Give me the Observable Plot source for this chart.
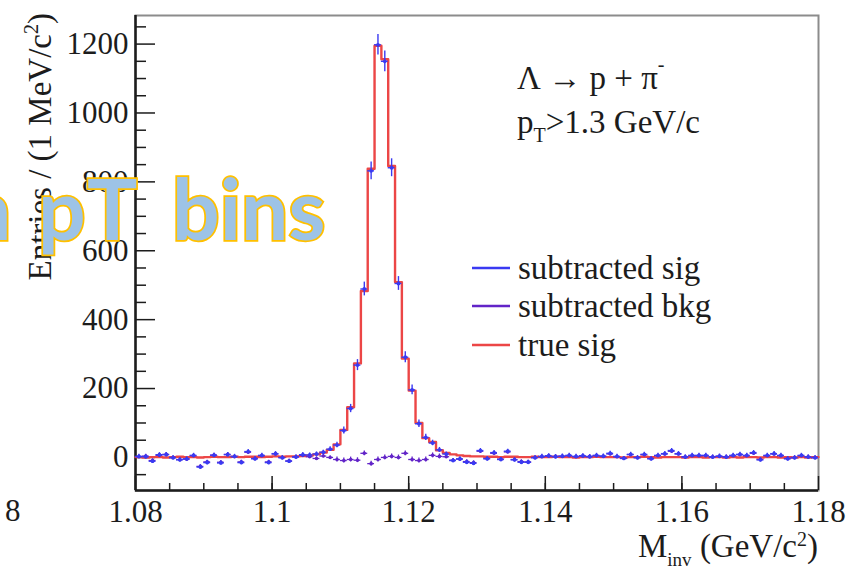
<!DOCTYPE html>
<html>
<head>
<meta charset="utf-8">
<script src="https://cdn.jsdelivr.net/npm/d3@7"></script>
<script src="https://cdn.jsdelivr.net/npm/@observablehq/plot@0.6"></script>
<style>
  html, body { margin: 0; padding: 0; background: #fff; }
  #wrap { position: relative; width: 849px; height: 572px; overflow: hidden; background: #fff; }
  #wrap > svg { position: absolute; left: 0; top: 0; }
</style>
</head>
<body>
<div id="wrap"></div>
<script>
// Invariant-mass histogram: 100 bins of 1 MeV/c^2 between 1.08 and 1.18 GeV/c^2
const massRange = [1.08, 1.18];
const nBins = 100;
const binWidth = (massRange[1] - massRange[0]) / nBins;
const binCenters = d3.range(nBins).map(i => +(massRange[0] + (i + 0.5) * binWidth).toFixed(4));

// true signal (MC truth), counts per bin
const trueSig = [
  1, 0, 1, 1, 0, 1, 2, 1, 1, 0,
  1, 2, 1, 1, 2, 1, 2, 2, 1, 2,
  3, 2, 3, 3, 4, 6, 9, 14, 22, 38,
  80, 146, 273, 483, 838, 1195, 1156, 846, 509, 287,
  194, 100, 56, 45, 21, 13, 9, 6, 4, 3,
  3, 2, 2, 1, 2, 2, 1, 1, 2, 1,
  1, 2, 1, 1, 0, 1, 1, 2, 1, 1,
  1, 0, 1, 1, 2, 1, 0, 1, 1, 1,
  0, 1, 1, 0, 1, 1, 0, 1, 0, 1,
  1, 0, 1, 1, 0, 1, 0, 1, 0, 1
];

// background-subtracted signal
const sigSub = [
  3, 2, -11, 8, 8, -1, -7, -4, 6, -28,
  -15, 6, -16, 8, 3, -15, 17, -4, 6, -15,
  11, -1, -11, 1, 8, 7, 10, 15, 24, 36,
  78, 142, 268, 489, 832, 1198, 1150, 841, 505, 291,
  196, 98, 58, 42, 22, 10, -9, -4, -14, -17,
  20, -4, 14, -6, 18, -7, -14, -14, -1, 3,
  5, 2, 4, 6, 3, 5, 2, 6, 4, 12,
  3, -3, 9, -1, 9, -4, 6, 11, 20, 11,
  1, 6, 6, 6, 1, 4, 1, 6, 9, 6,
  14, -7, 6, 11, 6, -4, -1, 6, 1, -1
];
const sigErr = [
  6, 6, 6, 6, 6, 6, 6, 6, 6, 6,
  6, 6, 6, 6, 6, 6, 6, 6, 6, 6,
  6, 6, 6, 6, 6, 6, 6, 6, 7, 8,
  10, 12, 16, 20, 26, 30, 30, 26, 20, 16,
  14, 11, 9, 8, 7, 6, 6, 6, 6, 6,
  6, 6, 6, 6, 6, 6, 6, 6, 6, 6,
  6, 6, 6, 6, 6, 6, 6, 6, 6, 6,
  6, 6, 6, 6, 6, 6, 6, 6, 6, 6,
  6, 6, 6, 6, 6, 6, 6, 6, 6, 6,
  6, 6, 6, 6, 6, 6, 6, 6, 6, 6
];

// subtracted background (residual)
const bkgSub = [
  2, 4, -9, 6, 9, 0, -6, -5, 5, -26,
  -13, 7, -14, 9, 2, -13, 15, -3, 5, -13,
  10, 0, -10, 2, 6, 2, -3, 4, 0, -6,
  -9, -6, -8, 12, -18, -6, 0, 3, 0, 12,
  -6, -9, -6, 6, 3, 2, -8, -5, -12, -15,
  18, -3, 12, -5, 16, -6, -12, -13, 0, 2,
  4, 3, 3, 5, 2, 4, 3, 5, 3, 10,
  2, -2, 8, 0, 8, -3, 5, 10, 18, 10,
  2, 5, 5, 5, 2, 3, 2, 5, 8, 5,
  12, -6, 5, 10, 5, -3, 0, 5, 2, 0
];
const bkgErr = [
  5, 5, 5, 5, 5, 5, 5, 5, 5, 5,
  5, 5, 5, 5, 5, 5, 5, 5, 5, 5,
  5, 5, 5, 5, 5, 5, 5, 5, 5, 7,
  7, 7, 7, 7, 7, 7, 7, 7, 7, 7,
  7, 7, 7, 7, 7, 5, 5, 5, 5, 5,
  5, 5, 5, 5, 5, 5, 5, 5, 5, 5,
  5, 5, 5, 5, 5, 5, 5, 5, 5, 5,
  5, 5, 5, 5, 5, 5, 5, 5, 5, 5,
  5, 5, 5, 5, 5, 5, 5, 5, 5, 5,
  5, 5, 5, 5, 5, 5, 5, 5, 5, 5
];

// axis ticks
const xTicks = [1.08, 1.1, 1.12, 1.14, 1.16, 1.18];
const xMinorTicks = d3.range(1.085, 1.18, 0.005).map(v => +v.toFixed(3));
const yTicks = [0, 200, 400, 600, 800, 1000, 1200];
const yMinorTicks = [-50, 50, 100, 150, 250, 300, 350, 450, 500, 550, 650, 700, 750,
                     850, 900, 950, 1050, 1100, 1150, 1250];
const yRange = [-96, 1283];

const colors = { sig: "#3a3af2", bkg: "#6224c8", truth: "#ec4646" };
const legendLabels = ["subtracted sig", "subtracted bkg", "true sig"];

const rows = binCenters.map((c, i) => ({
  c, lo: c - binWidth / 2, hi: c + binWidth / 2,
  truth: trueSig[i], sig: sigSub[i], sigErr: sigErr[i], bkg: bkgSub[i], bkgErr: bkgErr[i]
}));
// step outline: left edge of every bin plus the closing right edge
const steps = rows.map(r => ({ x: r.lo, y: r.truth }))
  .concat([{ x: rows[rows.length - 1].hi, y: rows[rows.length - 1].truth }]);

const W = 849, H = 572;
const M = { left: 135, right: 31, top: 15, bottom: 82 };
const innerW = W - M.left - M.right;
const innerH = H - M.top - M.bottom;
const ink = "#1c1c1c";
const serif = "'Liberation Serif', 'DejaVu Serif', serif";

const chart = Plot.plot({
  width: W, height: H,
  marginLeft: M.left, marginRight: M.right, marginTop: M.top, marginBottom: M.bottom,
  x: { domain: massRange },
  y: { domain: yRange },
  style: { fontFamily: serif, fontSize: "31px", color: ink, background: "transparent" },
  marks: [
    Plot.frame({ stroke: "#8c8c8c", strokeWidth: 2 }),
    // inward ROOT-style ticks
    Plot.ruleX(xMinorTicks, { stroke: ink, strokeWidth: 1.5, insetTop: innerH - 7 }),
    Plot.ruleX(xTicks, { stroke: ink, strokeWidth: 1.5, insetTop: innerH - 14 }),
    Plot.ruleY(yMinorTicks, { stroke: ink, strokeWidth: 1.5, insetRight: innerW - 11 }),
    Plot.ruleY(yTicks, { stroke: ink, strokeWidth: 1.5, insetRight: innerW - 20 }),
    Plot.ruleX([massRange[0]], { stroke: ink, strokeWidth: 2.5 }),
    Plot.ruleY([yRange[0]], { stroke: ink, strokeWidth: 2.5 }),
    Plot.axisX(xTicks, { tickSize: 0, tickPadding: 9, label: null, fontSize: 31, tickFormat: d => String(+d.toFixed(2)) }),
    Plot.axisY(yTicks, { tickSize: 0, tickPadding: 7, label: null, fontSize: 31, tickFormat: d => String(d) }),
    // true signal histogram
    Plot.line(steps, { x: "x", y: "y", curve: "step-after", stroke: colors.truth, strokeWidth: 2.4 }),
    // subtracted background points
    Plot.ruleX(rows, { x: "c", y1: d => d.bkg - d.bkgErr, y2: d => d.bkg + d.bkgErr, stroke: colors.bkg, strokeWidth: 1.3 }),
    Plot.ruleY(rows, { y: "bkg", x1: "lo", x2: "hi", stroke: colors.bkg, strokeWidth: 1.3 }),
    Plot.dot(rows, { x: "c", y: "bkg", r: 1.8, fill: colors.bkg, stroke: null }),
    // subtracted signal points
    Plot.ruleX(rows, { x: "c", y1: d => d.sig - d.sigErr, y2: d => d.sig + d.sigErr, stroke: colors.sig, strokeWidth: 1.4 }),
    Plot.ruleY(rows, { y: "sig", x1: "lo", x2: "hi", stroke: colors.sig, strokeWidth: 1.4 }),
    Plot.dot(rows, { x: "c", y: "sig", r: 1.9, fill: colors.sig, stroke: null })
  ]
});

const wrap = document.getElementById("wrap");
wrap.appendChild(chart);

// titles, annotations and legend
const legendColors = [colors.sig, colors.bkg, colors.truth];
const legendY = [268, 306, 345];
const legendItems = legendLabels.map((t, i) => `
  <line x1="472" x2="510" y1="${legendY[i]}" y2="${legendY[i]}" stroke="${legendColors[i]}" stroke-width="2.5"/>
  <text x="518" y="${legendY[i]}" dy="0.33em" font-size="33">${t}</text>`).join("");

const overlay = `
<svg width="${W}" height="${H}" xmlns="http://www.w3.org/2000/svg" font-family="${serif}" fill="${ink}">
  <text transform="translate(51,13) rotate(-90)" text-anchor="end" font-size="33">Entries / (1 MeV/c<tspan font-size="20" dy="-13">2</tspan><tspan dy="13">)</tspan></text>
  <text x="818" y="557" text-anchor="end" font-size="33">M<tspan font-size="19" dy="9">inv</tspan><tspan dy="-9"> (GeV/c</tspan><tspan font-size="20" dy="-11">2</tspan><tspan dy="11">)</tspan></text>
  <text x="517" y="89" font-size="33">Λ → p + π<tspan font-size="20" dy="-18">-</tspan></text>
  <text x="517" y="133" font-size="33">p<tspan font-size="20" dy="9">T</tspan><tspan dy="-9">&gt;1.3 GeV/c</tspan></text>
  ${legendItems}
  <text x="5" y="521" font-size="31">8</text>
  <text y="240" font-family="Lato, 'Open Sans', sans-serif" font-weight="700" font-size="84" fill="#9dc3e6" stroke="#ffc000" stroke-width="3.5" paint-order="stroke"><tspan x="-36">n</tspan><tspan x="38">p</tspan><tspan x="87">T</tspan><tspan x="172">bins</tspan></text>
</svg>`;
wrap.insertAdjacentHTML("beforeend", overlay);
</script>
</body>
</html>
